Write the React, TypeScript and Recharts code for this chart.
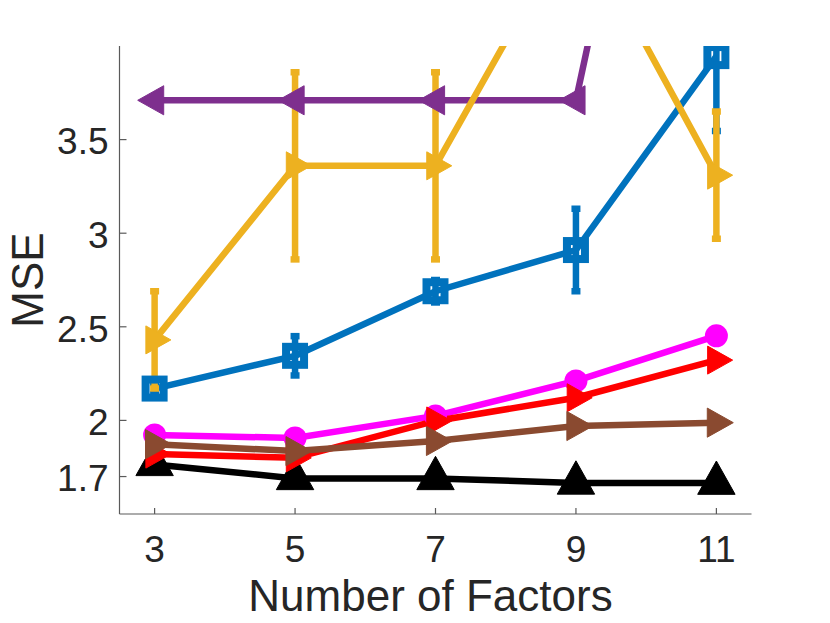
import React from "react"
import { LineChart, Line, XAxis, YAxis, ErrorBar, Label } from "recharts"

// x positions (number of factors) and axis ticks
const factors = [3, 5, 7, 9, 11]
const xTicks = [3, 5, 7, 9, 11]
const yTicks = [1.7, 2, 2.5, 3, 3.5]

// MSE per method
const purple = [3.71, 3.71, 3.71, 3.71, 7.2]
const orange = [2.43, 3.36, 3.36, 4.69, 3.31]
const orangeErr = [0.26, 0.5, 0.5, 0.3, 0.34]
const blue = [2.17, 2.345, 2.69, 2.91, 3.946]
const blueErr = [0.03, 0.105, 0.06, 0.22, 0.4]
const magenta = [1.922, 1.906, 2.024, 2.211, 2.452]
const red = [1.82, 1.8, 1.997, 2.121, 2.322]
const brown = [1.873, 1.836, 1.89, 1.97, 1.988]
const black = [1.765, 1.69, 1.69, 1.666, 1.665]

const data = factors.map((f, i) => ({
    f,
    purple: purple[i],
    orange: orange[i],
    orangeErr: orangeErr[i],
    blue: blue[i],
    blueErr: blueErr[i],
    magenta: magenta[i],
    red: red[i],
    brown: brown[i],
    black: black[i],
}))

const C_PURPLE = "#7E2F8E"
const C_ORANGE = "#EDB120"
const C_BLUE = "#0072BD"
const C_MAGENTA = "#FF00FF"
const C_RED = "#FF0000"
const C_BROWN = "#8A4A30"
const C_BLACK = "#000000"

const FONT = "'Liberation Sans', Arial, Helvetica, sans-serif"
const TEXT = "#262626"
const AXIS = "#5a5a5a"

// chart box
const W = 830
const H = 623
const M = { top: 46, right: 78.5, bottom: 0, left: 0 }
const Y_AXIS_W = 119.5
const X_AXIS_H = 109
const LW = 6.5

type DotArgs = { cx?: number; cy?: number; index?: number }

// MATLAB-like markers
function triRight(color: string, s: number) {
    return ({ cx, cy, index }: DotArgs) => {
        if (cx == null || cy == null) return <g key={index} />
        const pts = `${cx - 0.35 * s},${cy - 0.56 * s} ${cx + 0.65 * s},${cy} ${cx - 0.35 * s},${cy + 0.56 * s}`
        return <polygon key={index} points={pts} fill={color} stroke={color} strokeWidth={1} />
    }
}

function triLeft(color: string, s: number) {
    return ({ cx, cy, index }: DotArgs) => {
        if (cx == null || cy == null) return <g key={index} />
        const pts = `${cx + 0.35 * s},${cy - 0.56 * s} ${cx - 0.65 * s},${cy} ${cx + 0.35 * s},${cy + 0.56 * s}`
        return <polygon key={index} points={pts} fill={color} stroke={color} strokeWidth={1} />
    }
}

function triUp(color: string, s: number) {
    return ({ cx, cy, index }: DotArgs) => {
        if (cx == null || cy == null) return <g key={index} />
        const pts = `${cx - 0.55 * s},${cy + 0.33 * s} ${cx},${cy - 0.65 * s} ${cx + 0.55 * s},${cy + 0.33 * s}`
        return <polygon key={index} points={pts} fill={color} stroke={color} strokeWidth={1} />
    }
}

function circle(color: string, r: number) {
    return ({ cx, cy, index }: DotArgs) => {
        if (cx == null || cy == null) return <g key={index} />
        return <circle key={index} cx={cx} cy={cy} r={r} fill={color} />
    }
}

function square(color: string, s: number) {
    return ({ cx, cy, index }: DotArgs) => {
        if (cx == null || cy == null) return <g key={index} />
        return (
            <rect key={index} x={cx - s / 2} y={cy - s / 2} width={s} height={s}
                fill="none" stroke={color} strokeWidth={8} />
        )
    }
}

function YTick({ x, y, payload }: any) {
    return (
        <g>
            <line x1={x} x2={x + 7} y1={y} y2={y} stroke={AXIS} strokeWidth={1.2} />
            <text x={x - 11} y={y} dy="0.4em" textAnchor="end" fontSize={37}
                fontFamily={FONT} fill={TEXT}>
                {payload.value}
            </text>
        </g>
    )
}

function XTick({ x, y, payload }: any) {
    return (
        <g>
            <line x1={x} x2={x} y1={y} y2={y - 6} stroke={AXIS} strokeWidth={1.2} />
            <text x={x} y={y + 48} textAnchor="middle" fontSize={37}
                fontFamily={FONT} fill={TEXT}>
                {payload.value}
            </text>
        </g>
    )
}

export default function App() {
    // plot area, used to clip the error bars the way MATLAB does
    const px = M.left + Y_AXIS_W
    const py = M.top
    const pw = W - M.right - px
    const ph = H - M.bottom - X_AXIS_H - py

    return (
        <div style={{ position: "absolute", left: 0, top: 0, width: W, height: H, background: "#fff" }}>
            <style>{`[class*="recharts-errorBar"] { clip-path: url(#plotAreaClip); }`}</style>
            <svg width={0} height={0} style={{ position: "absolute" }}>
                <defs>
                    <clipPath id="plotAreaClip" clipPathUnits="userSpaceOnUse">
                        <rect x={px} y={py} width={pw} height={ph} />
                    </clipPath>
                </defs>
            </svg>
            <LineChart width={W} height={H} data={data} margin={M}>
                <XAxis
                    dataKey="f"
                    type="number"
                    domain={[2.5, 11.5]}
                    ticks={xTicks}
                    interval={0}
                    height={X_AXIS_H}
                    tickSize={0}
                    tickMargin={0}
                    tickLine={false}
                    axisLine={{ stroke: AXIS, strokeWidth: 1.2 }}
                    tick={<XTick />}
                >
                    <Label
                        content={({ viewBox }: any) => {
                            const vb = viewBox || { x: px, y: py + ph, width: pw, height: X_AXIS_H }
                            return (
                                <text x={vb.x + vb.width / 2 - 5} y={611} textAnchor="middle"
                                    fontSize={44} fontFamily={FONT} fill={TEXT}>
                                    Number of Factors
                                </text>
                            )
                        }}
                    />
                </XAxis>
                <YAxis
                    type="number"
                    domain={[1.5, 4]}
                    allowDataOverflow
                    ticks={yTicks}
                    interval={0}
                    width={Y_AXIS_W}
                    tickSize={0}
                    tickMargin={0}
                    tickLine={false}
                    axisLine={{ stroke: AXIS, strokeWidth: 1.2 }}
                    tick={<YTick />}
                >
                    <Label
                        content={({ viewBox }: any) => {
                            const vb = viewBox || { x: 0, y: py, width: Y_AXIS_W, height: ph }
                            const cy = vb.y + vb.height / 2
                            return (
                                <text x={43} y={cy} transform={`rotate(-90 43 ${cy})`} textAnchor="middle"
                                    fontSize={44} fontFamily={FONT} fill={TEXT}>
                                    MSE
                                </text>
                            )
                        }}
                    />
                </YAxis>

                <Line dataKey="purple" type="linear" stroke={C_PURPLE} strokeWidth={LW}
                    dot={triLeft(C_PURPLE, 26)} activeDot={false} isAnimationActive={false} />
                <Line dataKey="blue" type="linear" stroke={C_BLUE} strokeWidth={LW}
                    dot={square(C_BLUE, 18)} activeDot={false} isAnimationActive={false}>
                    <ErrorBar dataKey="blueErr" direction="y" width={4.5} strokeWidth={LW}
                        stroke={C_BLUE} isAnimationActive={false} />
                </Line>
                <Line dataKey="black" type="linear" stroke={C_BLACK} strokeWidth={LW}
                    dot={triUp(C_BLACK, 34)} activeDot={false} isAnimationActive={false} />
                <Line dataKey="magenta" type="linear" stroke={C_MAGENTA} strokeWidth={LW}
                    dot={circle(C_MAGENTA, 11.5)} activeDot={false} isAnimationActive={false} />
                <Line dataKey="red" type="linear" stroke={C_RED} strokeWidth={LW}
                    dot={triRight(C_RED, 25)} activeDot={false} isAnimationActive={false} />
                <Line dataKey="brown" type="linear" stroke={C_BROWN} strokeWidth={LW}
                    dot={triRight(C_BROWN, 26)} activeDot={false} isAnimationActive={false} />
                <Line dataKey="orange" type="linear" stroke={C_ORANGE} strokeWidth={LW}
                    dot={triRight(C_ORANGE, 25)} activeDot={false} isAnimationActive={false}>
                    <ErrorBar dataKey="orangeErr" direction="y" width={4.5} strokeWidth={LW}
                        stroke={C_ORANGE} isAnimationActive={false} />
                </Line>
            </LineChart>
        </div>
    )
}
